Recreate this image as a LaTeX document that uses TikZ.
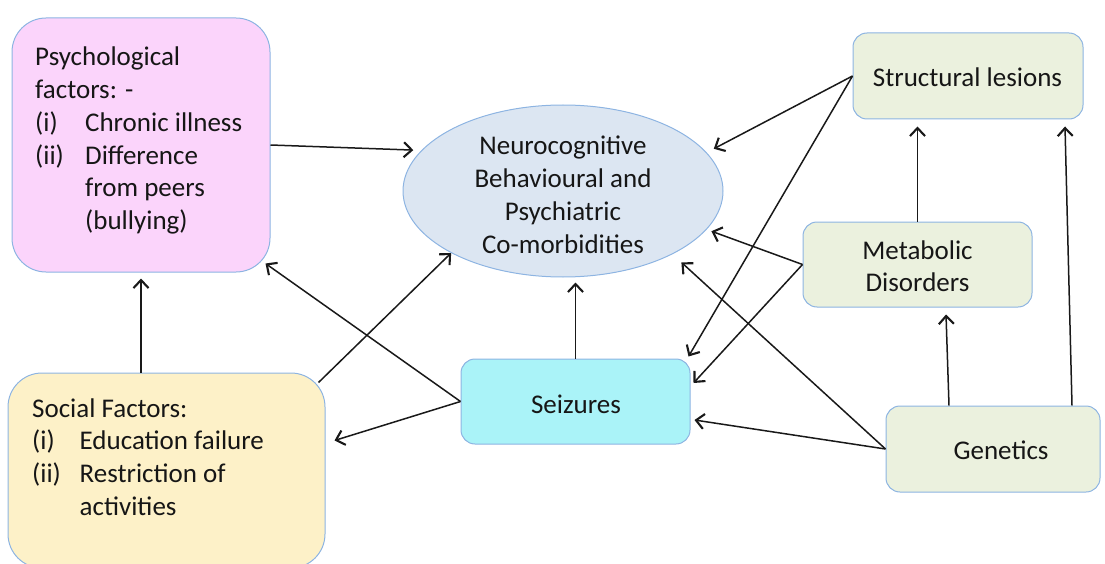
\documentclass[tikz,border=0pt]{standalone}
\usepackage{fontspec}
\setmainfont{Carlito}
\usetikzlibrary{shapes.geometric,arrows.meta,calc}

\definecolor{edgeblue}{RGB}{141,180,226}
\definecolor{pinkfill}{RGB}{251,212,251}
\definecolor{ovalfill}{RGB}{220,230,242}
\definecolor{greenfill}{RGB}{235,241,222}
\definecolor{cyanfill}{RGB}{170,243,248}
\definecolor{sandfill}{RGB}{253,241,200}
\definecolor{ink}{RGB}{22,22,22}
\definecolor{linegrey}{RGB}{25,25,25}

\tikzset{
  box/.style={draw=edgeblue, line width=1pt, rounded corners=14pt, inner sep=0pt},
  bigbox/.style={box, rounded corners=34pt},
  txt/.style={font=\fontsize{27}{32.7}\selectfont, text=ink, inner sep=0pt},
  conn/.style={draw=linegrey, line width=1.5pt,
               -{Straight Barb[length=8pt,width=15pt,line width=2.1pt]}},
}

\begin{document}
\begin{tikzpicture}[x=1pt,y=-1pt]
\useasboundingbox (0,0) rectangle (1105,564);

% boxes
\node[bigbox, fill=pinkfill, minimum width=258pt, minimum height=254pt] (psych) at (141,145) {};
\node[bigbox, fill=sandfill, minimum width=317pt, minimum height=195pt] (social) at (166.5,470.5) {};
\node[ellipse, draw=edgeblue, line width=1pt, fill=ovalfill, inner sep=0pt,
      minimum width=320pt, minimum height=172pt] (ncb) at (563,191) {};
\node[box, fill=greenfill, minimum width=230pt, minimum height=86pt] (struct) at (968,76) {};
\node[box, fill=greenfill, minimum width=229pt, minimum height=85pt] (metab) at (917.5,264.5) {};
\node[box, fill=cyanfill, minimum width=229pt, minimum height=85pt] (seiz) at (575.5,401.5) {};
\node[box, fill=greenfill, minimum width=214pt, minimum height=86pt] (genet) at (993,449) {};

% labels, placed by their first baseline
\node[txt, anchor=base west] (psychtext) at (35,66) {%
  \begin{tabular}[t]{@{}p{50pt}@{}l@{}}
  \multicolumn{2}{@{}l@{}}{Psychological}\\
  \multicolumn{2}{@{}l@{}}{factors: -}\\
  (i) & Chronic illness\\
  (ii) & Difference\\
  & from peers\\
  & (bullying)
  \end{tabular}};
\node[txt, anchor=base west] (socialtext) at (32,417) {%
  \begin{tabular}[t]{@{}p{47.5pt}@{}l@{}}
  \multicolumn{2}{@{}l@{}}{Social Factors:}\\
  (i) & Education failure\\
  (ii) & Restriction of\\
  & activities
  \end{tabular}};
\node[txt, anchor=base] (ncbtext) at (563,155) {%
  \begin{tabular}[t]{@{}c@{}}
  Neurocognitive\\Behavioural and\\Psychiatric\\Co-morbidities
  \end{tabular}};
\node[txt, anchor=base] (structtext) at (967.5,86.7) {Structural lesions};
\node[txt, anchor=base] (metabtext) at (917.5,259) {%
  \begin{tabular}[t]{@{}c@{}}Metabolic\\Disorders\end{tabular}};
\node[txt, anchor=base] (seiztext) at (576,413) {Seizures};
\node[txt, anchor=base] (genettext) at (1001,459) {Genetics};

% connectors
\draw[conn, shorten >=8pt] (psych.east) -- (ncb.164);
\draw[conn, shorten >=6pt] (social.north -| psych.south) -- (psych.south);
\draw[conn] ($(social.north east)+(-7,10)$) -- (ncb.209);
\draw[conn] (seiz.west) -- ($(psych.south east)+(-5,-9)$);
\draw[conn] (seiz.west) -- ($(social.east)+(9,-30)$);
\draw[conn, shorten >=5pt] (seiz.north) -- (seiz.north |- ncb.south);
\draw[conn, shorten >=8pt] (struct.west) -- (ncb.15);
\draw[conn] (struct.west) -- ($(seiz.north east)+(-2,-2)$);
\draw[conn, shorten >=5pt] (metab.west) -- (ncb.345);
\draw[conn] (metab.west) -- ($(seiz.east)+(3,-18.5)$);
\draw[conn] (genet.west) -- ($(seiz.east)+(4,18.5)$);
\draw[conn, shorten >=12pt] (genet.west) -- (ncb.330);
\draw[conn] ($(genet.north)+(-44,0)$) -- ($(metab.south)+(28.5,7)$);
\draw[conn] ($(genet.north)+(79,0)$) -- ($(struct.south)+(97,7)$);
\draw[conn, shorten >=7pt] (metab.north) -- (metab.north |- struct.south);
\end{tikzpicture}
\end{document}
